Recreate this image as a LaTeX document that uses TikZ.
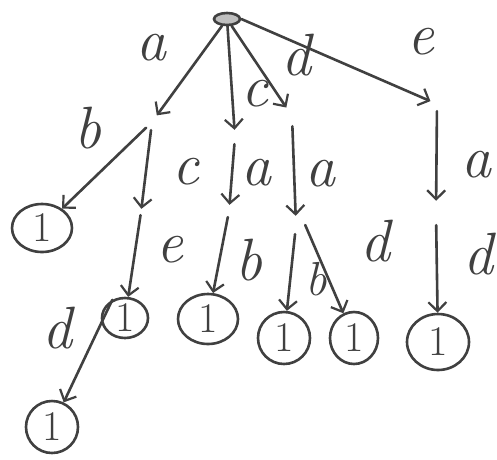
\documentclass[tikz,border=0pt]{standalone}
\usetikzlibrary{shapes.geometric,arrows.meta}
\begin{document}
\begin{tikzpicture}[x=1pt,y=-1pt,
  ink/.style={draw=black!75,line width=2.6pt},
  edge/.style={ink,line cap=round,-{Straight Barb[length=9pt,width=18pt,line width=2.2pt]}},
  leaf/.style={ellipse,ink,inner sep=0pt},
  onetext/.style={font=\Huge,text=black!75,scale=1.7,inner sep=0pt},
  inner/.style={circle,inner sep=0pt,minimum size=#1},
  lbl/.style={font=\Huge\itshape,text=black!75,scale=2.4,inner sep=0pt}]
\useasboundingbox (0,0) rectangle (497,459);
\fill[white] (0,0) rectangle (497,459);
% nodes
\node[ellipse,ink,fill=black!25,minimum width=26pt,minimum height=12pt,inner sep=0pt] (root) at (227,19) {};
\node[inner=16pt] (A) at (152,122) {};
\node[inner=14pt] (C) at (235,137) {};
\node[inner=20pt] (D) at (292,116) {};
\node[inner=14pt] (E) at (437,104) {};
\node[inner=6pt] (AC) at (141,212) {};
\node[inner=12pt] (CA) at (229,211) {};
\node[inner=18pt] (DA) at (296,225) {};
\node[inner=24pt] (EA) at (436,213) {};
\node[leaf,minimum width=60pt,minimum height=48pt] (L1) at (42,228) {};
\node[leaf,minimum width=46pt,minimum height=40pt] (ACE) at (125,318) {};
\node[leaf,minimum width=52pt,minimum height=52pt] (ACED) at (52,427) {};
\node[leaf,minimum width=60pt,minimum height=50pt] (CAB) at (208,319) {};
\node[leaf,minimum width=52pt,minimum height=52pt] (DAB) at (284,338) {};
\node[leaf,minimum width=48pt,minimum height=52pt] (DAD) at (354,338) {};
\node[leaf,minimum width=62pt,minimum height=56pt] (EAD) at (438,342) {};
\foreach \n in {L1,ACE,ACED,CAB,DAB,DAD,EAD} \node[onetext] (t\n) at (\n) {1};
% edges
\draw[edge] (root) -- (A);
\draw[edge] (root) -- (C);
\draw[edge] (root) -- (D);
\draw[edge] (root.east) -- (E);
\draw[edge] (A) -- (L1);
\draw[edge] (A) -- (AC);
\draw[edge] (AC) -- (ACE);
\draw[edge] (ACE.125) -- (ACED);
\draw[edge] (C) -- (CA);
\draw[edge] (CA) -- (CAB);
\draw[edge] (D) -- (DA);
\draw[edge] (DA) -- (DAB);
\draw[edge] (DA.east) -- (DAD);
\draw[edge] (E) -- (EA);
\draw[edge] (EA) -- (EAD);
% labels
\node[lbl] (la1) at (151,48) {a};
\node[lbl] (lc1) at (255,94) {c};
\node[lbl] (ld1) at (296,55) {d};
\node[lbl] (le1) at (421,42) {e};
\node[lbl] (lb2) at (88,128) {b};
\node[lbl] (lc2) at (186,172) {c};
\node[lbl] (le3) at (170,250) {e};
\node[lbl] (ld4) at (57,328) {d};
\node[lbl] (la2) at (256,173) {a};
\node[lbl] (lb3) at (249,260) {b};
\node[lbl] (la3) at (320,174) {a};
\node[lbl,scale=0.8] (lb4) at (316,279) {b};
\node[lbl] (ld3) at (375,241) {d};
\node[lbl] (la4) at (476,165) {a};
\node[lbl] (ld5) at (478,254) {d};
\end{tikzpicture}
\end{document}
